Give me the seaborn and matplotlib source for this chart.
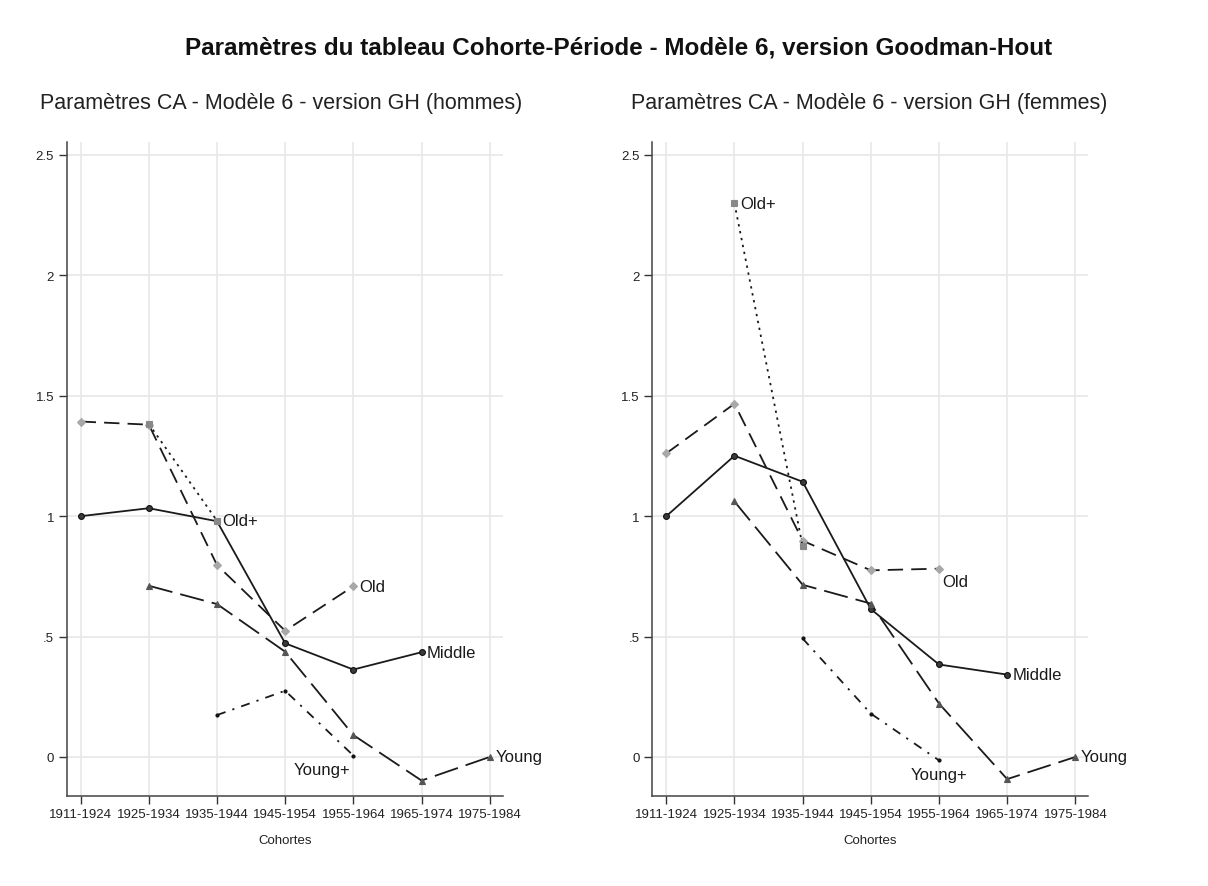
import numpy as np
import pandas as pd
import matplotlib
matplotlib.use("Agg")
import matplotlib.pyplot as plt
import seaborn as sns

# ---------------- data ----------------
cohorts = ["1911-1924", "1925-1934", "1935-1944", "1945-1954",
           "1955-1964", "1965-1974", "1975-1984"]
groups = ["Middle", "Old", "Old+", "Young", "Young+"]

# hommes
middle_h = [1.00, 1.033, 0.979, 0.472, 0.363, 0.435, np.nan]
old_h = [1.393, 1.380, 0.797, 0.524, 0.709, np.nan, np.nan]
oldplus_h = [np.nan, 1.383, 0.981, np.nan, np.nan, np.nan, np.nan]
young_h = [np.nan, 0.711, 0.635, 0.437, 0.091, -0.098, 0.0]
youngplus_h = [np.nan, np.nan, 0.174, 0.275, 0.006, np.nan, np.nan]

# femmes
middle_f = [1.00, 1.251, 1.143, 0.614, 0.384, 0.342, np.nan]
old_f = [1.261, 1.467, 0.898, 0.775, 0.782, np.nan, np.nan]
oldplus_f = [np.nan, 2.299, 0.876, np.nan, np.nan, np.nan, np.nan]
young_f = [np.nan, 1.061, 0.715, 0.637, 0.222, -0.092, 0.0]
youngplus_f = [np.nan, np.nan, 0.492, 0.180, -0.014, np.nan, np.nan]

ytick_vals = [0, 0.5, 1, 1.5, 2, 2.5]
ytick_labels = ["0", ".5", "1", "1.5", "2", "2.5"]

title = "Paramètres du tableau Cohorte-Période - Modèle 6, version Goodman-Hout"
sub_h = "Paramètres CA - Modèle 6 - version GH (hommes)"
sub_f = "Paramètres CA - Modèle 6 - version GH (femmes)"
xlabel = "Cohortes"

# ---------------- style ----------------
sns.set_theme(style="white")
plt.rcParams["font.family"] = ["Liberation Sans", "DejaVu Sans"]

styles = {
    "Middle": dict(ls="-", marker="o", mfc="#3a3a3a", mec="#111111", ms=4.2, color="#1a1a1a"),
    "Old": dict(ls=(0, (8.5, 4.5)), marker="D", mfc="#a8a8a8", mec="#a8a8a8", ms=4, color="#1a1a1a"),
    "Old+": dict(ls=(0, (1.3, 2.6)), marker="s", mfc="#888888", mec="#888888", ms=5, color="#1a1a1a"),
    "Young": dict(ls=(0, (13.5, 4.5)), marker="^", mfc="#555555", mec="#555555", ms=4.5, color="#1a1a1a"),
    "Young+": dict(ls=(0, (5, 4, 1.2, 4)), marker="o", mfc="#111111", mec="#111111", ms=2.2, color="#1a1a1a"),
}


def make_df(series):
    rows = []
    for g, vals in zip(groups, series):
        for i, v in enumerate(vals):
            if not np.isnan(v):
                rows.append({"pos": i, "cohorte": cohorts[i], "groupe": g, "valeur": v})
    return pd.DataFrame(rows)


df_h = make_df([middle_h, old_h, oldplus_h, young_h, youngplus_h])
df_f = make_df([middle_f, old_f, oldplus_f, young_f, youngplus_f])

fig = plt.figure(figsize=(12.08, 8.87), dpi=100)
ax_h = fig.add_axes([0.0552, 0.1015, 0.3609, 0.7373])
ax_f = fig.add_axes([0.5400, 0.1015, 0.3609, 0.7373])


def draw(ax, df, labels):
    for g in groups:
        d = df[df["groupe"] == g]
        st = styles[g]
        sns.lineplot(data=d, x="pos", y="valeur", ax=ax, color=st["color"],
                     lw=1.3, legend=False, sort=True, estimator=None)
        line = ax.lines[-1]
        line.set_linestyle(st["ls"])
        line.set_marker(st["marker"])
        line.set_markerfacecolor(st["mfc"])
        line.set_markeredgecolor(st["mec"])
        line.set_markersize(st["ms"])
        line.set_markeredgewidth(0.8)
    for g, (idx, dx, dy, ha, va) in labels.items():
        d = df[(df["groupe"] == g) & (df["pos"] == idx)]
        x, y = d["pos"].iloc[0], d["valeur"].iloc[0]
        ax.annotate(g, (x, y), xytext=(dx, dy), textcoords="offset points",
                    ha=ha, va=va, fontsize=12, color="#1a1a1a")

    ax.set_xlim(-0.205, 6.19)
    ax.set_ylim(-0.162, 2.554)
    ax.set_xticks(range(len(cohorts)))
    ax.set_xticklabels(cohorts, fontsize=9.5, color="#222222")
    ax.set_yticks(ytick_vals)
    ax.set_yticklabels(ytick_labels, fontsize=9.5, color="#222222")
    ax.grid(True, color="#e8e8e8", lw=1.2)
    ax.set_axisbelow(True)
    for s in ["top", "right"]:
        ax.spines[s].set_visible(False)
    for s in ["left", "bottom"]:
        ax.spines[s].set_color("#444444")
        ax.spines[s].set_linewidth(1.1)
    ax.tick_params(axis="both", direction="out", length=6, width=1.0,
                   color="#333333", pad=3, left=True, bottom=True)
    ax.set_xlabel(xlabel, fontsize=9.5, color="#222222", labelpad=10)
    ax.set_ylabel("")


draw(ax_h, df_h, {
    "Old+": (2, 4, 0, "left", "center"),
    "Old": (4, 4, 0, "left", "center"),
    "Middle": (5, 4, 0, "left", "center"),
    "Young": (6, 4, 0, "left", "center"),
    "Young+": (4, -2, -5, "right", "top"),
})
draw(ax_f, df_f, {
    "Old+": (1, 4, 0, "left", "center"),
    "Old": (4, 2, -4, "left", "top"),
    "Middle": (5, 4, 0, "left", "center"),
    "Young": (6, 4, 0, "left", "center"),
    "Young+": (4, 0, -5, "center", "top"),
})

fig.text(0.512, 1 - 48 / 887, title, ha="center", va="center",
         fontsize=17.5, fontweight="bold", color="#111111")
fig.text(40 / 1208, 1 - 103 / 887, sub_h, ha="left", va="center",
         fontsize=15.5, color="#222222")
fig.text(631 / 1208, 1 - 103 / 887, sub_f, ha="left", va="center",
         fontsize=15.5, color="#222222")

fig.savefig("out.png", dpi=100, facecolor="white")
